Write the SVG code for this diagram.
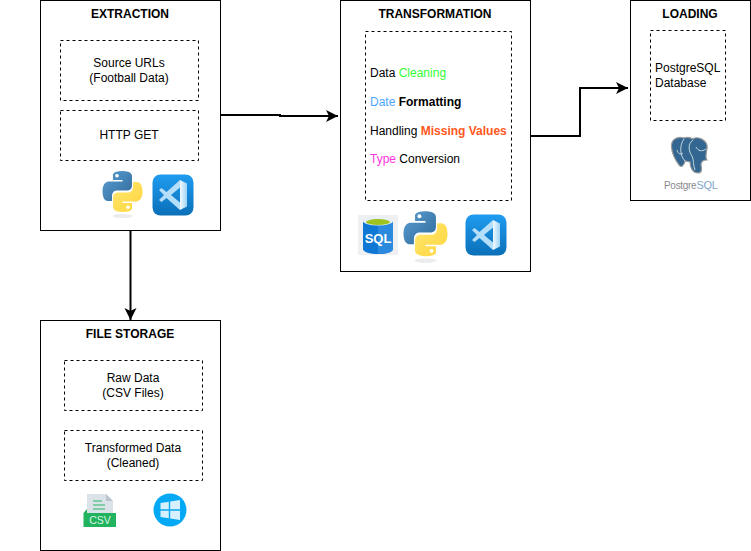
<svg xmlns="http://www.w3.org/2000/svg" width="751" height="551" viewBox="0 0 751 551">
<style>
text{font-family:"Liberation Sans",Arial,sans-serif;font-size:12px;fill:#000}
.t{font-weight:bold;text-anchor:middle}
.c{text-anchor:middle}
.box{fill:#fff;stroke:#000;stroke-width:1}
.dash{fill:#fff;stroke:#000;stroke-width:1;stroke-dasharray:3 3}
.conn{fill:none;stroke:#000;stroke-width:2}
.b{font-weight:bold}
</style>
<defs>
<marker id="arrow" markerUnits="userSpaceOnUse" markerWidth="13" markerHeight="14" refX="12" refY="7" orient="auto"><path d="M0 1L12 7L0 13L3 7Z" fill="#000"/></marker>
<linearGradient id="pyb" x1="0" y1="0" x2="1" y2="1"><stop offset="0" stop-color="#5a9fd4"/><stop offset="1" stop-color="#306998"/></linearGradient>
<linearGradient id="pyy" x1="0" y1="0" x2="1" y2="1"><stop offset="0" stop-color="#ffe873"/><stop offset="1" stop-color="#ffd43b"/></linearGradient>
<linearGradient id="vsb" x1="0" y1="0" x2="0" y2="1"><stop offset="0" stop-color="#1f9cf0"/><stop offset="1" stop-color="#0a6fb8"/></linearGradient>
<linearGradient id="vsp" x1="0" y1="0" x2="1" y2="0"><stop offset="0" stop-color="#f2faff"/><stop offset="1" stop-color="#9ed4f7"/></linearGradient>
<symbol id="python" viewBox="0 0 40 47" overflow="visible">
<ellipse cx="20" cy="45" rx="10" ry="2" fill="#ececec"/>
<path fill="url(#pyb)" d="M19.500 0C10 0 10.500 4 10.500 4V9H20V10.500H6.500C6.500 10.500 0 10 0 20.500C0 30.500 5.500 30 5.500 30H9.500V25C9.500 25 9.500 19.500 14.500 19.500H24.500C24.500 19.500 29.500 19.500 29.500 14.500V5C29.500 5 30 0 19.500 0Z"/>
<circle cx="14.500" cy="4.700" r="1.800" fill="#fff"/>
<path fill="url(#pyy)" d="M20.500 41C30 41 29.500 37 29.500 37V32H20V30.500H33.500C33.500 30.500 40 31 40 20.500C40 10.500 34.500 11 34.500 11H30.500V16C30.500 16 30.500 21.500 25.500 21.500H15.500C15.500 21.500 10.500 21.500 10.500 26.500V36C10.500 36 10 41 20.500 41Z"/>
<circle cx="25.500" cy="36.300" r="1.800" fill="#fff"/>
</symbol>
<symbol id="vscode" viewBox="0 0 41 41" overflow="visible">
<rect width="41" height="41" rx="8" fill="url(#vsb)"/>
<path fill="#b5defa" d="M27.500 5.500V13L18.500 20.500L27.500 28V35.500L14 23.500L9 27.500L6.500 25.500L11.500 20.500L6.500 15.500L9 13.500L14 17.500Z"/>
<path fill="url(#vsp)" d="M27.500 5.500L34.500 9V32L27.500 35.500Z"/>
</symbol>
</defs>
<g id="connectors">
<path class="conn" d="M220 115H280V116H338" marker-end="url(#arrow)"/>
<path class="conn" d="M530 136H580V88H628" marker-end="url(#arrow)"/>
<path class="conn" d="M130.500 230V320" marker-end="url(#arrow)"/>
</g>
<g id="extraction">
<rect class="box" x="40.500" y="0.500" width="180" height="230"/>
<text class="t" x="130" y="18">EXTRACTION</text>
<rect class="dash" x="60.500" y="40.500" width="138" height="60"/>
<text class="c" x="129" y="67">Source URLs</text>
<text class="c" x="129" y="82">(Football Data)</text>
<rect class="dash" x="60.500" y="110.500" width="138" height="50"/>
<text class="c" x="129" y="139">HTTP GET</text>
<use href="#python" x="102.500" y="171" width="40" height="47"/>
<use href="#vscode" x="152.500" y="174.500" width="41" height="41"/>
</g>
<g id="transformation">
<rect class="box" x="340.500" y="0.500" width="190" height="271"/>
<text class="t" x="435" y="18">TRANSFORMATION</text>
<rect class="dash" x="365.500" y="31.500" width="146" height="169"/>
<text x="370" y="77">Data <tspan fill="#33ff33">Cleaning</tspan></text>
<text x="370" y="106"><tspan fill="#4da6ff">Date</tspan> <tspan class="b">Formatting</tspan></text>
<text x="370" y="135">Handling <tspan class="b" fill="#ff5722">Missing Values</tspan></text>
<text x="370" y="163"><tspan fill="#ff33e0">Type</tspan> Conversion</text>
<rect x="358" y="215" width="40" height="40" fill="#eef0f2"/>
<path d="M363 221V249C363 252 370 254 378 254S393 252 393 249V221Z" fill="#0f78d4"/>
<path d="M378 221H393V249C393 252 386 254 378 254Z" fill="#2b8ade"/>
<ellipse cx="378" cy="221" rx="15" ry="4.500" fill="#e9f0f5"/>
<ellipse cx="378" cy="222" rx="12" ry="3" fill="#9ec31f"/>
<text x="378" y="243" text-anchor="middle" style="font-weight:bold;font-size:13px;fill:#fff">SQL</text>
<use href="#python" x="403.500" y="211" width="44" height="52"/>
<use href="#vscode" x="465.500" y="214.500" width="41" height="41"/>
</g>
<g id="loading">
<rect class="box" x="630.500" y="0.500" width="120" height="200"/>
<text class="t" x="690" y="18">LOADING</text>
<rect class="dash" x="650.500" y="30.500" width="75" height="90"/>
<text x="655" y="72">PostgreSQL</text>
<text x="655" y="87">Database</text>
<path d="M684 138C676 136 671 140 671.500 147C672 154 676 161 679 165C681 168 684 166 685 161L690 162C690 168 693 173 698 173C702 173 702 169 701 165C701 161 704 160 707 160C704 156 708 150 707 145C705 139 697 136 693 139C690 137 687 137 684 138Z" fill="#336791" stroke="#9a9a9a" stroke-width="1.200"/>
<path d="M684 139C679 146 680 156 685 161M693 140C687 144 689 152 692 156C694 160 693 165 695 170M706 149C702 152 698 151 696 147M677 150C678 154 681 155 683 153" fill="none" stroke="#e8f0f6" stroke-width="0.800"/>
<text x="664" y="189" style="font-size:10px;fill:#8a8a8a;letter-spacing:-0.300px">Postgre<tspan style="fill:#7fa5c9;font-size:11px">SQL</tspan></text>
</g>
<g id="file-storage">
<rect class="box" x="40.500" y="320.500" width="180" height="230"/>
<text class="t" x="130" y="338">FILE STORAGE</text>
<rect class="dash" x="64.500" y="360.500" width="138" height="50"/>
<text class="c" x="133" y="382">Raw Data</text>
<text class="c" x="133" y="397">(CSV Files)</text>
<rect class="dash" x="64.500" y="430.500" width="138" height="50"/>
<text class="c" x="133" y="452">Transformed Data</text>
<text class="c" x="133" y="467">(Cleaned)</text>
<path d="M87 494H106L113 501V515H87Z" fill="#dbe2e8"/>
<path d="M106 494L113 501H106Z" fill="#b9c4cc"/>
<path d="M93 501H102M93 505H105M93 509H105" stroke="#29b765" stroke-width="1.200" fill="none"/>
<path d="M83.500 513L87 509V513H116V527H83.500Z" fill="#22b35e"/>
<text x="100" y="524" text-anchor="middle" style="font-size:10.500px;fill:#d9f5e5">CSV</text>
<circle cx="170" cy="510" r="16.500" fill="#03a9f4"/>
<path d="M160.500 503L168.800 501.800V509.300H160.500ZM170.200 501.600L180 500V509.300H170.200ZM160.500 510.700H168.800V518.200L160.500 517ZM170.200 510.700H180V520L170.200 518.400Z" fill="#d6f0fd"/>
</g>
</svg>
